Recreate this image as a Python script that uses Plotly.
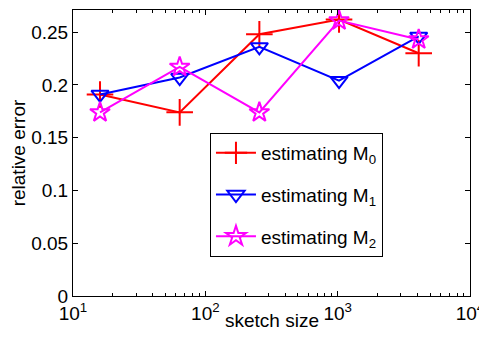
import plotly.graph_objects as go

sketch_size = [16, 64, 256, 1024, 4096]
err_m0 = [0.191, 0.174, 0.248, 0.262, 0.230]
err_m1 = [0.191, 0.207, 0.236, 0.204, 0.246]
err_m2 = [0.174, 0.217, 0.174, 0.261, 0.243]
series_names = ["estimating M<sub>0</sub>", "estimating M<sub>1</sub>", "estimating M<sub>2</sub>"]

x_tickvals = [10, 100, 1000, 10000]
x_ticktext = ["10<sup>1</sup>", "10<sup>2</sup>", "10<sup>3</sup>", "10<sup>4</sup>"]
x_minorvals = [20, 30, 40, 50, 60, 70, 80, 90,
               200, 300, 400, 500, 600, 700, 800, 900,
               2000, 3000, 4000, 5000, 6000, 7000, 8000, 9000]
y_tickvals = [0, 0.05, 0.1, 0.15, 0.2, 0.25]
y_ticktext = ["0", "0.05", "0.1", "0.15", "0.2", "0.25"]

font_family = "Liberation Sans, Arial, sans-serif"

fig = go.Figure()
styles = [
    ("#FF0000", "cross-thin-open", 19),
    ("#0000FF", "triangle-down-open", 15),
    ("#FF00FF", "star-open", 15),
]
for i, (ys, name) in enumerate(zip([err_m0, err_m1, err_m2], series_names)):
    color, sym, size = styles[i]
    fig.add_trace(go.Scatter(
        x=sketch_size, y=ys, name=name, mode="lines+markers",
        line=dict(color=color, width=2),
        marker=dict(symbol=sym, size=size, color=color, line=dict(color=color, width=2)),
        legendgroup=f"g{i}",
    ))

fig.add_annotation(
    text="sketch size", xref="paper", yref="paper",
    x=0.5, y=-0.087, xanchor="center", yanchor="middle",
    showarrow=False, font=dict(size=19),
)

fig.update_layout(
    width=479, height=323,
    margin=dict(l=65, r=17, t=2, b=35),
    paper_bgcolor="white", plot_bgcolor="white",
    font=dict(family=font_family, size=19, color="black"),
    showlegend=True,
    legend=dict(
        x=0.345, y=0.57, xanchor="left", yanchor="top",
        bordercolor="black", borderwidth=1, bgcolor="white",
        font=dict(size=19), tracegroupgap=14,
        itemwidth=40,
    ),
    xaxis=dict(
        type="log", range=[1, 4],
        tickvals=x_tickvals, ticktext=x_ticktext,
        ticks="inside", ticklen=5, tickcolor="black",
        showline=True, linecolor="black", linewidth=1, mirror="ticks",
        showgrid=False, zeroline=False,
        minor=dict(tickmode="array", tickvals=x_minorvals, ticks="inside",
                   ticklen=3, tickcolor="black", showgrid=False),
        tickfont=dict(size=19),
    ),
    yaxis=dict(
        range=[0, 0.271],
        tickvals=y_tickvals, ticktext=y_ticktext,
        ticks="inside", ticklen=5, tickcolor="black",
        showline=True, linecolor="black", linewidth=1, mirror="ticks",
        showgrid=False, zeroline=False,
        title=dict(text="relative error", standoff=4, font=dict(size=19)),
        tickfont=dict(size=19),
    ),
)

fig.write_html("out.html")
